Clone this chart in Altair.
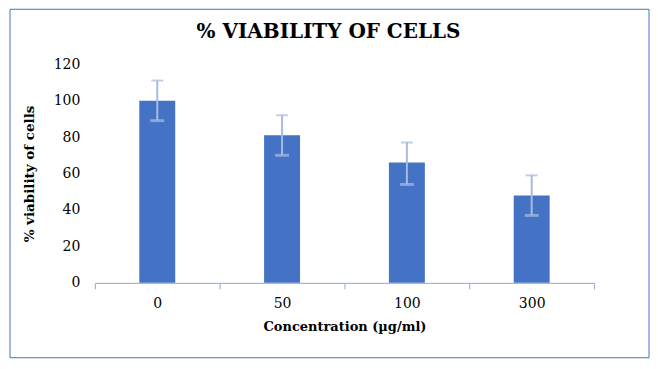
import altair as alt
import pandas as pd

categories = ["0", "50", "100", "300"]
viability = [100, 81, 66, 48]
err_low = [89, 70, 54, 37]
err_high = [111, 92, 77, 59]
title_text = "% VIABILITY OF CELLS"

df = pd.DataFrame({"conc": categories, "v": viability, "lo": err_low, "hi": err_high})

FONT = "DejaVu Serif"
AXIS_COLOR = "#8EA9DB"
ERR_COLOR = "#A7BBE2"

x = alt.X("conc:N", sort=categories, title="Concentration (µg/ml)",
          scale=alt.Scale(paddingInner=0, paddingOuter=0),
          axis=alt.Axis(labelAngle=0, tickBand="extent", tickSize=6, tickColor=AXIS_COLOR,
                        domainColor=AXIS_COLOR, labelFont=FONT, labelFontSize=14, labelColor="#000000",
                        labelPadding=8, titleFont=FONT, titleFontSize=13, titleFontWeight="bold",
                        titleColor="#000000", titlePadding=10, grid=False))

y = alt.Y("v:Q", title="% viability of cells",
          scale=alt.Scale(domain=[0, 120]),
          axis=alt.Axis(tickCount=6, grid=False, domain=False, ticks=False,
                        labelOverlap=False,
                        labelFont=FONT, labelFontSize=14, labelColor="#000000", labelPadding=15,
                        titleFont=FONT, titleFontSize=13.5, titleFontWeight="bold", titleColor="#000000",
                        titlePadding=17))

base = alt.Chart(df)

bars = base.mark_bar(size=36, color="#4472C4").encode(x=x, y=y)
rule = base.mark_rule(color=ERR_COLOR, strokeWidth=2).encode(x=alt.X("conc:N", sort=categories), y="lo:Q", y2="hi:Q")
cap_hi = base.mark_tick(color=ERR_COLOR, size=12, thickness=2, orient="horizontal").encode(
    x=alt.X("conc:N", sort=categories), y="hi:Q")
cap_lo = base.mark_tick(color=ERR_COLOR, size=14, thickness=3, orient="horizontal").encode(
    x=alt.X("conc:N", sort=categories), y="lo:Q")

one = alt.Data(values=[{"t": title_text}])
border = alt.Chart(one).mark_rect(
    fill=None, stroke="#4472C4", strokeWidth=1, clip=False).encode(
    x=alt.value(-85), x2=alt.value(555), y=alt.value(-55), y2=alt.value(294))

title = alt.Chart(one).mark_text(font=FONT, fontSize=20, fontWeight="bold", color="#000000",
                                 align="center", baseline="middle").encode(
    text="t:N", x=alt.value(234), y=alt.value(-32))

chart = alt.layer(border, title, bars, rule, cap_hi, cap_lo).properties(
    width=500, height=219,
    autosize=alt.AutoSizeParams(type="none"),
    padding={"left": 87, "top": 56, "right": 56, "bottom": 76},
).configure_view(stroke=None)

chart.save("out.html", embed_options={"renderer": "svg", "actions": False})
